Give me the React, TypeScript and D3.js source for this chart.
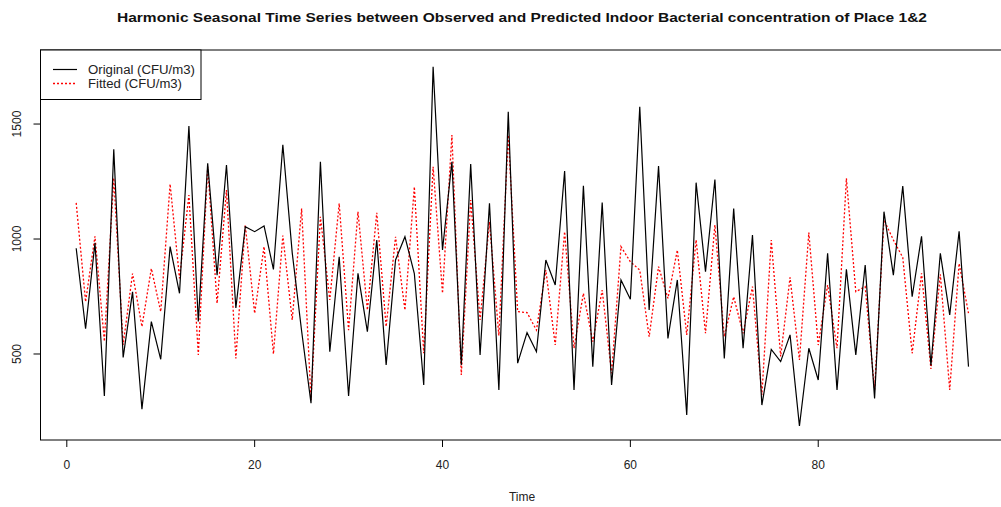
import React from "react";
import * as d3 from "d3";

const timeIndex: number[] = Array.from({ length: 96 }, (_, i) => i + 1);

const originalSeries: number[] = [
  960, 610, 983, 317, 1390, 485, 770, 260, 641, 477,
  967, 764, 1491, 641, 1329, 843, 1322, 700, 1054, 1032,
  1057, 868, 1410, 940, 600, 286, 1336, 510, 923, 317,
  851, 597, 996, 452, 909, 1010, 850, 365, 1749, 952,
  1336, 452, 1326, 496, 1155, 344, 1553, 460, 593, 510,
  909, 800, 1296, 344, 1232, 445, 1159, 365, 822, 738,
  1575, 691, 1317, 568, 822, 235, 1245, 858, 1259, 481,
  1133, 525, 1017, 278, 520, 467, 583, 187, 525, 387,
  938, 344, 868, 496, 887, 307, 1119, 843, 1230, 749,
  1012, 450, 938, 670, 1034, 445,
];

const fittedSeries: number[] = [
  1157, 727, 1012, 555, 1265, 540, 850, 619, 872, 684,
  1239, 829, 1191, 496, 1314, 720, 1213, 481, 1061, 677,
  967, 500, 1015, 648, 1133, 300, 1097, 735, 1155, 604,
  1119, 691, 1114, 619, 1010, 691, 1227, 503, 1314, 764,
  1452, 409, 1170, 648, 1075, 580, 1452, 684, 680, 604,
  865, 539, 1032, 525, 764, 554, 778, 416, 967, 901,
  865, 575, 880, 742, 952, 583, 996, 590, 1061, 575,
  749, 590, 793, 322, 996, 489, 833, 474, 1028, 539,
  800, 525, 1264, 771, 793, 344, 1083, 996, 920, 503,
  851, 435, 847, 344, 894, 677,
];

const xTicks: number[] = [0, 20, 40, 60, 80];
const yTicks: number[] = [500, 1000, 1500];

const titleText =
  "Harmonic Seasonal Time Series between Observed and Predicted Indoor Bacterial concentration of Place 1&2";
const legendLabels: string[] = ["Original (CFU/m3)", "Fitted (CFU/m3)"];

export default function App() {
  const W = 1001;
  const H = 507;
  const x = d3.scaleLinear().domain([-2.8, 99.8]).range([40.5, 1004.2]);
  const y = d3.scaleLinear().domain([126, 1822]).range([440, 50]);

  const line = d3
    .line<number>()
    .x((_, i) => x(timeIndex[i]))
    .y((d) => y(d));

  const font = "Liberation Sans, Arial, sans-serif";
  const [x0, x1] = x.range();
  const [yb, yt] = y.range();

  return (
    <svg
      width={W}
      height={H}
      style={{ position: "absolute", left: 0, top: 0, background: "#fff" }}
      fontFamily={font}
    >
      <rect x={0} y={0} width={W} height={H} fill="#fff" />
      <text
        x={522}
        y={22}
        textAnchor="middle"
        fontSize={13}
        fontWeight="bold"
        fill="#111"
        textLength={810}
        lengthAdjust="spacingAndGlyphs"
      >
        {titleText}
      </text>

      <path d={line(fittedSeries) || ""} fill="none" stroke="#ff0000" strokeWidth={1.3} strokeDasharray="2,2" />
      <path d={line(originalSeries) || ""} fill="none" stroke="#000" strokeWidth={1.2} />

      <rect x={x0} y={yt} width={x1 - x0} height={yb - yt} fill="none" stroke="#000" strokeWidth={1} />

      {xTicks.map((t) => (
        <g key={"xt" + t}>
          <line x1={x(t)} x2={x(t)} y1={yb} y2={yb + 7} stroke="#000" />
          <text x={x(t)} y={469} textAnchor="middle" fontSize={12} fill="#222">
            {t}
          </text>
        </g>
      ))}
      {yTicks.map((t) => (
        <g key={"yt" + t}>
          <line x1={x0} x2={x0 - 7} y1={y(t)} y2={y(t)} stroke="#000" />
          <text
            transform={`translate(${21},${y(t)}) rotate(-90)`}
            textAnchor="middle"
            fontSize={12}
            fill="#222"
          >
            {t}
          </text>
        </g>
      ))}
      <text x={522} y={501} textAnchor="middle" fontSize={12} fill="#222">
        Time
      </text>

      <g>
        <rect x={x0} y={yt} width={201 - x0} height={49.5} fill="#fff" stroke="#000" strokeWidth={1} />
        <line x1={53} x2={77} y1={69.5} y2={69.5} stroke="#000" strokeWidth={1.2} />
        <line x1={53} x2={77} y1={83.5} y2={83.5} stroke="#ff0000" strokeWidth={1.3} strokeDasharray="2,2" />
        <text x={88} y={73.5} fontSize={12} fill="#222" textLength={107} lengthAdjust="spacingAndGlyphs">
          {legendLabels[0]}
        </text>
        <text x={88} y={87.5} fontSize={12} fill="#222" textLength={94} lengthAdjust="spacingAndGlyphs">
          {legendLabels[1]}
        </text>
      </g>
    </svg>
  );
}
